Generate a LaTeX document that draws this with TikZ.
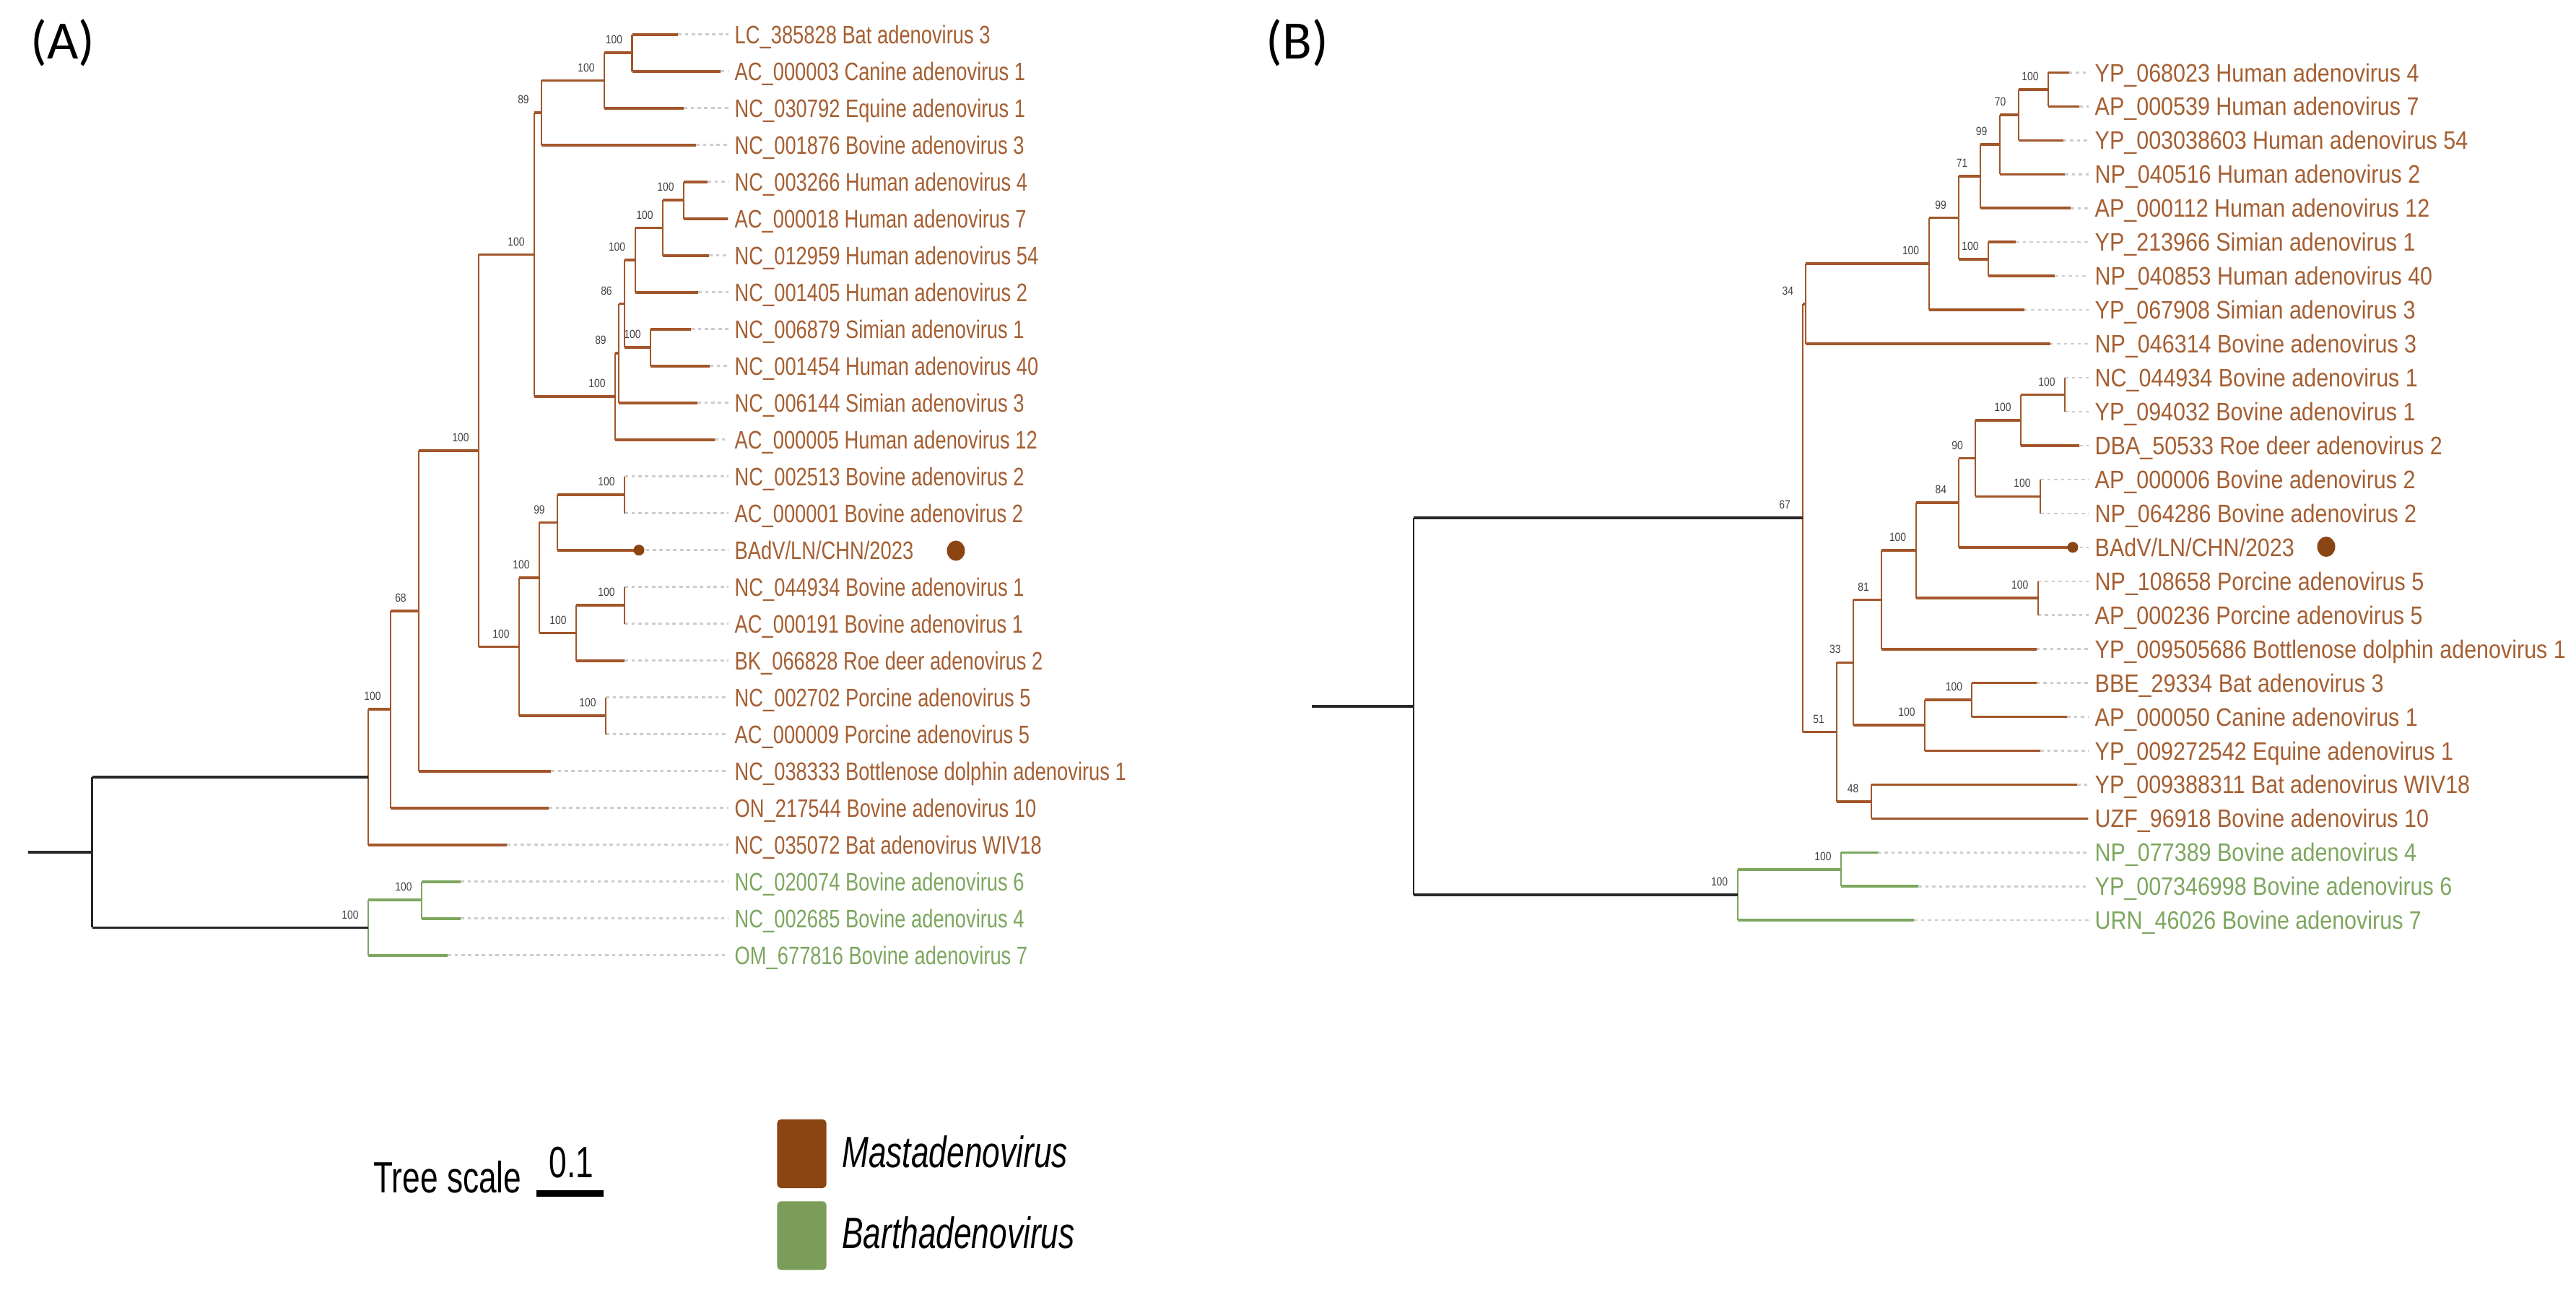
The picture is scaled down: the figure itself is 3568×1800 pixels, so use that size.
\documentclass[tikz,border=0pt]{standalone}
\usepackage{fontspec}
\setmainfont{Liberation Sans}
\newfontfamily\labfA[FakeStretch=0.78]{Liberation Sans}
\newfontfamily\labfB[FakeStretch=0.87]{Liberation Sans}
\newfontfamily\bsf[FakeStretch=0.85]{Liberation Sans}
\newfontfamily\legf[FakeStretch=0.73]{Liberation Sans}
\newfontfamily\panf{Carlito}
\usetikzlibrary{shapes.geometric}
\definecolor{mbr}{RGB}{163,86,42}
\definecolor{mtx}{RGB}{165,95,50}
\definecolor{gbr}{RGB}{125,166,95}
\definecolor{gtx}{RGB}{125,166,95}
\definecolor{mleg}{RGB}{139,69,19}
\definecolor{gleg}{RGB}{122,158,90}
\definecolor{leadc}{RGB}{205,205,205}
\definecolor{rootc}{RGB}{40,40,40}
\tikzset{
  hbr/.style={line width=1.05pt},
  vbr/.style={line width=0.6pt},
  mL/.style={draw=mbr}, gL/.style={draw=gbr}, rL/.style={draw=rootc},
  mT/.style={text=mtx}, gT/.style={text=gtx},
  labA/.style={anchor=base west, yshift=-0.125cm, inner sep=0pt, font=\labfA\fontsize{9.96pt}{12pt}\selectfont},
  labB/.style={anchor=base west, yshift=-0.125cm, inner sep=0pt, font=\labfB\fontsize{9.96pt}{12pt}\selectfont},
  lead/.style={draw=leadc, line width=0.7pt, dash pattern=on 1.3pt off 1.4pt, shorten >=0.08cm},
  bs/.style={inner sep=0pt, xshift=-0.25cm, yshift=0.18cm, text=black!75, font=\bsf\fontsize{4.64pt}{5pt}\selectfont},
  tipdot/.style={circle, fill=mleg, inner sep=0pt, minimum size=0.15cm},
  bigdot/.style={ellipse, fill=mleg, inner sep=0pt, minimum width=0.25cm, minimum height=0.28cm},
  legtxt/.style={anchor=base west, inner sep=0pt, font=\legf\fontsize{17.25pt}{20pt}\selectfont},
  legit/.style={anchor=base west, inner sep=0pt, font=\legf\itshape\fontsize{17.25pt}{20pt}\selectfont},
  legbox/.style={rounded corners=0.05cm, inner sep=0pt, minimum width=0.68cm, minimum height=0.95cm},
  panel/.style={anchor=base west, inner sep=0pt, font=\panf\fontsize{21.3pt}{25pt}\selectfont},
}
% leaf: #1 tree, #2 id, #3 y, #4 tip x, #5 parent, #6 clade, #7 text
\newcommand{\lf}[7]{%
  \coordinate (t#1#2) at (#4,#3);
  \node[lab#1,#6T] (l#1#2) at (t#1#2 -| lx#1) {#7};
  \draw[hbr,#6L] (#5 |- t#1#2) -- (t#1#2);
  \draw[lead] (t#1#2) -- (l#1#2.west |- t#1#2);
}
% internal node: #1 node, #2 parent, #3 top child, #4 bottom child, #5 clade, #6 support
\newcommand{\nd}[6]{%
  \draw[vbr,#5L] (#1 |- #3) -- (#1 |- #4);
  \draw[hbr,#5L] (#2 |- #1) -- (#1);
  \node[bs] (s#1) at (#1) {#6};
}
\begin{document}
\begin{tikzpicture}[x=0.01cm,y=-0.01cm]
\useasboundingbox (0,0) rectangle (3568,1800);
\fill[white] (0,0) rectangle (3568,1800);
\coordinate (lxA) at (1017,0);
\coordinate (lxB) at (2901,0);

% ---------------- Tree A : internal nodes
\coordinate (a1) at (875.5,73.2);
\coordinate (a2) at (837,111.45);
\coordinate (a3) at (750,156.1);
\coordinate (ah1) at (947,277.2);
\coordinate (ah2) at (918,315.45);
\coordinate (ah3) at (879.6,360.1);
\coordinate (as1) at (901,481.2);
\coordinate (ah4) at (865,420.65);
\coordinate (ah5) at (857,489.2);
\coordinate (ah6) at (852,548.95);
\coordinate (a4) at (740,352.5);
\coordinate (av2) at (865,685.2);
\coordinate (ab3) at (772,723.45);
\coordinate (av1) at (865,838.2);
\coordinate (ab4) at (798,876.45);
\coordinate (ab2) at (747,799.95);
\coordinate (ap) at (839,991.2);
\coordinate (ab1) at (719,895.6);
\coordinate (a5) at (663,624.05);
\coordinate (a6) at (580,845.9);
\coordinate (a7) at (541,982.3);
\coordinate (am) at (510,1076);
\coordinate (ag1) at (584,1246.2);
\coordinate (ag) at (510,1284.45);
\coordinate (ar) at (127.5,1180.2);
\coordinate (astub) at (39,1180.2);

% Tree A : leaves
\lf{A}{1}{47.7}{939}{a1}{m}{LC\_385828 Bat adenovirus 3}
\lf{A}{2}{98.7}{998}{a1}{m}{AC\_000003 Canine adenovirus 1}
\lf{A}{3}{149.7}{947}{a2}{m}{NC\_030792 Equine adenovirus 1}
\lf{A}{4}{200.7}{964}{a3}{m}{NC\_001876 Bovine adenovirus 3}
\lf{A}{5}{251.7}{980}{ah1}{m}{NC\_003266 Human adenovirus 4}
\lf{A}{6}{302.7}{1008}{ah1}{m}{AC\_000018 Human adenovirus 7}
\lf{A}{7}{353.7}{982}{ah2}{m}{NC\_012959 Human adenovirus 54}
\lf{A}{8}{404.7}{967}{ah3}{m}{NC\_001405 Human adenovirus 2}
\lf{A}{9}{455.7}{957}{as1}{m}{NC\_006879 Simian adenovirus 1}
\lf{A}{10}{506.7}{983}{as1}{m}{NC\_001454 Human adenovirus 40}
\lf{A}{11}{557.7}{966}{ah5}{m}{NC\_006144 Simian adenovirus 3}
\lf{A}{12}{608.7}{990}{ah6}{m}{AC\_000005 Human adenovirus 12}
\lf{A}{13}{659.7}{865}{av2}{m}{NC\_002513 Bovine adenovirus 2}
\lf{A}{14}{710.7}{865}{av2}{m}{AC\_000001 Bovine adenovirus 2}
\lf{A}{15}{761.7}{885}{ab3}{m}{BAdV/LN/CHN/2023}
\lf{A}{16}{812.7}{865}{av1}{m}{NC\_044934 Bovine adenovirus 1}
\lf{A}{17}{863.7}{865}{av1}{m}{AC\_000191 Bovine adenovirus 1}
\lf{A}{18}{914.7}{865}{ab4}{m}{BK\_066828 Roe deer adenovirus 2}
\lf{A}{19}{965.7}{839}{ap}{m}{NC\_002702 Porcine adenovirus 5}
\lf{A}{20}{1016.7}{839}{ap}{m}{AC\_000009 Porcine adenovirus 5}
\lf{A}{21}{1067.7}{763}{a6}{m}{NC\_038333 Bottlenose dolphin adenovirus 1}
\lf{A}{22}{1118.7}{760}{a7}{m}{ON\_217544 Bovine adenovirus 10}
\lf{A}{23}{1169.7}{702}{am}{m}{NC\_035072 Bat adenovirus WIV18}
\lf{A}{24}{1220.7}{638}{ag1}{g}{NC\_020074 Bovine adenovirus 6}
\lf{A}{25}{1271.7}{638}{ag1}{g}{NC\_002685 Bovine adenovirus 4}
\lf{A}{26}{1322.7}{620}{ag}{g}{OM\_677816 Bovine adenovirus 7}

% Tree A : internal branches
\nd{a1}{a2}{tA1}{tA2}{m}{100}
\nd{a2}{a3}{a1}{tA3}{m}{100}
\nd{a3}{a4}{a2}{tA4}{m}{89}
\nd{ah1}{ah2}{tA5}{tA6}{m}{100}
\nd{ah2}{ah3}{ah1}{tA7}{m}{100}
\nd{ah3}{ah4}{ah2}{tA8}{m}{100}
\nd{as1}{ah4}{tA9}{tA10}{m}{100}
\nd{ah4}{ah5}{ah3}{as1}{m}{86}
\nd{ah5}{ah6}{ah4}{tA11}{m}{89}
\nd{ah6}{a4}{ah5}{tA12}{m}{100}
\nd{a4}{a5}{a3}{ah6}{m}{100}
\nd{av2}{ab3}{tA13}{tA14}{m}{100}
\nd{ab3}{ab2}{av2}{tA15}{m}{99}
\nd{av1}{ab4}{tA16}{tA17}{m}{100}
\nd{ab4}{ab2}{av1}{tA18}{m}{100}
\nd{ab2}{ab1}{ab3}{ab4}{m}{100}
\nd{ap}{ab1}{tA19}{tA20}{m}{100}
\nd{ab1}{a5}{ab2}{ap}{m}{100}
\nd{a5}{a6}{a4}{ab1}{m}{100}
\nd{a6}{a7}{a5}{tA21}{m}{68}
\nd{a7}{am}{a6}{tA22}{m}{100}
\nd{ag1}{ag}{tA24}{tA25}{g}{100}
\draw[vbr,mL] (am |- a7) -- (am |- tA23);
\draw[vbr,gL] (ag |- ag1) -- (ag |- tA26);
\node[bs] (sag) at (ag) {100};
\draw[hbr,rL] (ar |- am) -- (am);
\draw[hbr,rL] (ar |- ag) -- (ag);
\draw[vbr,rL] (ar |- am) -- (ar |- ag);
\draw[hbr,rL] (astub) -- (ar);
\node[tipdot] (dA) at (tA15) {};
\node[bigdot] (DA) at (1324,762.5) {};

% ---------------- Tree B : internal nodes
\coordinate (bh1) at (2837,123.98);
\coordinate (bh2) at (2795.7,159.19);
\coordinate (bh3) at (2769.7,200.27);
\coordinate (bh4) at (2742.7,244.29);
\coordinate (bs1) at (2754,358.73);
\coordinate (bh5) at (2713,301.51);
\coordinate (bh6) at (2671.6,365.33);
\coordinate (bh7) at (2501.4,420.72);
\coordinate (bv1) at (2860,546.53);
\coordinate (bl7) at (2799,581.74);
\coordinate (bv2) at (2826,687.38);
\coordinate (bl6) at (2736,634.56);
\coordinate (bl5) at (2713.4,696.18);
\coordinate (bp) at (2822.7,828.23);
\coordinate (bl4) at (2653.6,762.2);
\coordinate (bl3) at (2606,830.43);
\coordinate (bbc) at (2731.4,969.08);
\coordinate (bce) at (2666,1004.29);
\coordinate (bl2) at (2566.8,917.36);
\coordinate (bw) at (2591.6,1109.93);
\coordinate (bl1) at (2544,1013.64);
\coordinate (bm) at (2497,717.18);
\coordinate (bg1) at (2550,1203.83);
\coordinate (bg) at (2406.6,1239.04);
\coordinate (br) at (1958,978.11);
\coordinate (bstub) at (1817,978.11);

% Tree B : leaves
\lf{B}{1}{100.5}{2865.6}{bh1}{m}{YP\_068023 Human adenovirus 4}
\lf{B}{2}{147.45}{2880}{bh1}{m}{AP\_000539 Human adenovirus 7}
\lf{B}{3}{194.4}{2857.7}{bh2}{m}{YP\_003038603 Human adenovirus 54}
\lf{B}{4}{241.35}{2860}{bh3}{m}{NP\_040516 Human adenovirus 2}
\lf{B}{5}{288.3}{2868}{bh4}{m}{AP\_000112 Human adenovirus 12}
\lf{B}{6}{335.25}{2792}{bs1}{m}{YP\_213966 Simian adenovirus 1}
\lf{B}{7}{382.2}{2846}{bs1}{m}{NP\_040853 Human adenovirus 40}
\lf{B}{8}{429.15}{2803.6}{bh6}{m}{YP\_067908 Simian adenovirus 3}
\lf{B}{9}{476.1}{2839.6}{bh7}{m}{NP\_046314 Bovine adenovirus 3}
\lf{B}{10}{523.05}{2860}{bv1}{m}{NC\_044934 Bovine adenovirus 1}
\lf{B}{11}{570.0}{2860}{bv1}{m}{YP\_094032 Bovine adenovirus 1}
\lf{B}{12}{616.95}{2880}{bl7}{m}{DBA\_50533 Roe deer adenovirus 2}
\lf{B}{13}{663.9}{2826}{bv2}{m}{AP\_000006 Bovine adenovirus 2}
\lf{B}{14}{710.85}{2826}{bv2}{m}{NP\_064286 Bovine adenovirus 2}
\lf{B}{15}{757.8}{2871}{bl5}{m}{BAdV/LN/CHN/2023}
\lf{B}{16}{804.75}{2822.7}{bp}{m}{NP\_108658 Porcine adenovirus 5}
\lf{B}{17}{851.7}{2822.7}{bp}{m}{AP\_000236 Porcine adenovirus 5}
\lf{B}{18}{898.65}{2820.5}{bl3}{m}{YP\_009505686 Bottlenose dolphin adenovirus 1}
\lf{B}{19}{945.6}{2820.5}{bbc}{m}{BBE\_29334 Bat adenovirus 3}
\lf{B}{20}{992.55}{2863}{bbc}{m}{AP\_000050 Canine adenovirus 1}
\lf{B}{21}{1039.5}{2826}{bce}{m}{YP\_009272542 Equine adenovirus 1}
\lf{B}{22}{1086.45}{2877}{bw}{m}{YP\_009388311 Bat adenovirus WIV18}
\lf{B}{23}{1133.4}{2891.5}{bw}{m}{UZF\_96918 Bovine adenovirus 10}
\lf{B}{24}{1180.35}{2600.6}{bg1}{g}{NP\_077389 Bovine adenovirus 4}
\lf{B}{25}{1227.3}{2657}{bg1}{g}{YP\_007346998 Bovine adenovirus 6}
\lf{B}{26}{1274.25}{2651}{bg}{g}{URN\_46026 Bovine adenovirus 7}

% Tree B : internal branches
\nd{bh1}{bh2}{tB1}{tB2}{m}{100}
\nd{bh2}{bh3}{bh1}{tB3}{m}{70}
\nd{bh3}{bh4}{bh2}{tB4}{m}{99}
\nd{bh4}{bh5}{bh3}{tB5}{m}{71}
\nd{bs1}{bh5}{tB6}{tB7}{m}{100}
\nd{bh5}{bh6}{bh4}{bs1}{m}{99}
\nd{bh6}{bh7}{bh5}{tB8}{m}{100}
\nd{bh7}{bm}{bh6}{tB9}{m}{34}
\nd{bv1}{bl7}{tB10}{tB11}{m}{100}
\nd{bl7}{bl6}{bv1}{tB12}{m}{100}
\nd{bv2}{bl6}{tB13}{tB14}{m}{100}
\nd{bl6}{bl5}{bl7}{bv2}{m}{90}
\nd{bl5}{bl4}{bl6}{tB15}{m}{84}
\nd{bp}{bl4}{tB16}{tB17}{m}{100}
\nd{bl4}{bl3}{bl5}{bp}{m}{100}
\nd{bl3}{bl2}{bl4}{tB18}{m}{81}
\nd{bbc}{bce}{tB19}{tB20}{m}{100}
\nd{bce}{bl2}{bbc}{tB21}{m}{100}
\nd{bl2}{bl1}{bl3}{bce}{m}{33}
\nd{bw}{bl1}{tB22}{tB23}{m}{48}
\nd{bl1}{bm}{bl2}{bw}{m}{51}
\nd{bg1}{bg}{tB24}{tB25}{g}{100}
\draw[vbr,mL] (bm |- bh7) -- (bm |- bl1);
\node[bs] (sbm) at (bm) {67};
\draw[vbr,gL] (bg |- bg1) -- (bg |- tB26);
\node[bs] (sbg) at (bg) {100};
\draw[hbr,rL] (br |- bm) -- (bm);
\draw[hbr,rL] (br |- bg) -- (bg);
\draw[vbr,rL] (br |- bm) -- (br |- bg);
\draw[hbr,rL] (bstub) -- (br);
\node[tipdot] (dB) at (tB15) {};
\node[bigdot] (DB) at (3222,757) {};

% ---------------- panel labels
\node[panel] (pA) at (41.7,81.7) {(A)};
\node[panel] (pB) at (1753,81.7) {(B)};

% ---------------- legend
\node[legtxt] (tsc) at (516.7,1651.7) {Tree scale};
\node[legtxt] (tsv) at (760,1630) {0.1};
\coordinate (sb1) at (743,1652.5);
\coordinate (sb2) at (836,1652.5);
\draw[line width=2.3pt] (sb1) -- (sb2);
\node[legbox, fill=mleg] (km) at (1110.5,1597.5) {};
\node[legbox, fill=gleg] (kg) at (1110.5,1710.8) {};
\node[legit] (tm) at (1165.5,1616.7) {Mastadenovirus};
\node[legit] (tg) at (1165.5,1728.3) {Barthadenovirus};
\end{tikzpicture}
\end{document}
